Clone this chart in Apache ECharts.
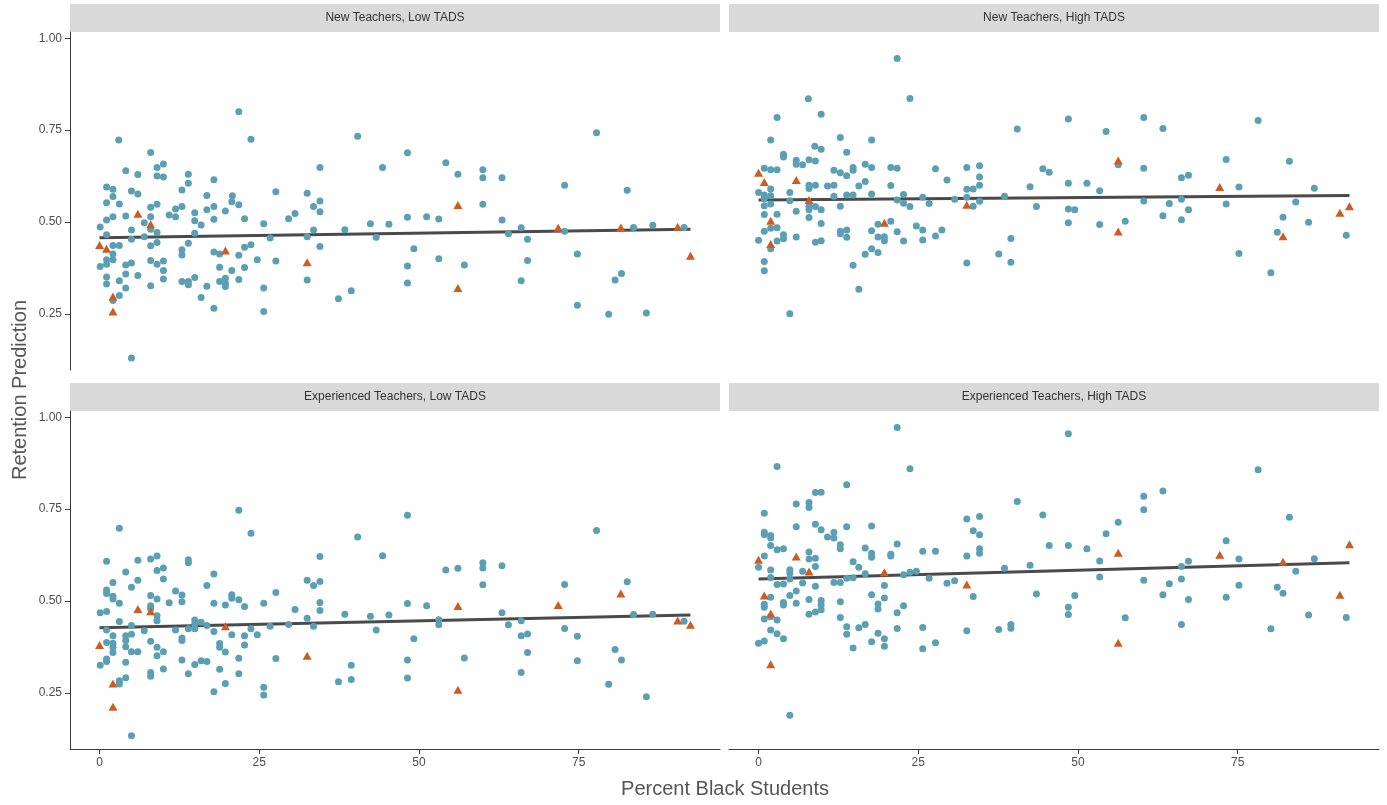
<!DOCTYPE html>
<html><head><meta charset="utf-8">
<script src="https://cdn.jsdelivr.net/npm/echarts@6/dist/echarts.min.js"></script>
<style>html,body{margin:0;padding:0;background:#fff}#c{width:1387px;height:805px}</style>
</head><body><div id="c"></div>
<script>
const panelTitles = ["New Teachers, Low TADS","New Teachers, High TADS","Experienced Teachers, Low TADS","Experienced Teachers, High TADS"];
const xTicks = [0,25,50,75];
const yTicks = [0.25,0.5,0.75,1.0];
const xTitle = "Percent Black Students";
const yTitle = "Retention Prediction";

const newLowCircles = [[21.8,0.80],[3.0,0.723],[23.7,0.725],[8.0,0.689],[4.1,0.639],[6.0,0.629],[9.0,0.648],[10.0,0.658],[9.0,0.625],[10.0,0.622],[13.9,0.63],[13.9,0.605],[17.9,0.615],[1.1,0.595],[2.1,0.589],[5.0,0.584],[6.0,0.576],[2.1,0.569],[12.9,0.587],[1.1,0.552],[3.1,0.549],[8.0,0.54],[9.0,0.548],[12.9,0.542],[11.9,0.535],[16.8,0.572],[16.8,0.533],[17.9,0.542],[20.8,0.571],[20.7,0.555],[21.8,0.547],[19.7,0.53],[14.9,0.525],[27.6,0.582],[1.1,0.505],[2.1,0.514],[4.1,0.516],[8.0,0.514],[10.9,0.519],[11.9,0.514],[14.9,0.503],[15.9,0.492],[17.9,0.507],[22.7,0.509],[25.7,0.495],[29.6,0.509],[0.1,0.486],[5.0,0.478],[7.0,0.498],[8.0,0.48],[9.0,0.471],[1.1,0.465],[5.0,0.453],[7.0,0.46],[14.9,0.469],[26.7,0.456],[2.1,0.436],[3.1,0.436],[8.0,0.435],[9.0,0.444],[13.9,0.442],[12.9,0.424],[12.9,0.41],[17.9,0.418],[18.8,0.413],[23.7,0.438],[22.7,0.431],[21.8,0.409],[2.1,0.413],[1.1,0.397],[2.1,0.397],[0.1,0.379],[1.1,0.385],[4.1,0.383],[5.0,0.388],[8.0,0.395],[9.0,0.385],[10.0,0.394],[10.0,0.368],[4.1,0.358],[6.0,0.354],[18.8,0.377],[20.7,0.368],[22.7,0.376],[24.7,0.397],[27.6,0.394],[1.1,0.35],[1.1,0.331],[3.1,0.34],[4.1,0.32],[8.0,0.326],[10.0,0.345],[12.9,0.338],[13.9,0.338],[13.9,0.329],[14.9,0.349],[16.8,0.325],[18.8,0.338],[19.7,0.347],[19.7,0.333],[19.7,0.324],[21.8,0.343],[25.7,0.32],[3.1,0.30],[2.1,0.286],[15.9,0.294],[17.9,0.265],[25.7,0.256],[5.0,0.13],
[30.6,0.523],[32.5,0.578],[33.5,0.542],[34.5,0.557],[34.5,0.528],[34.5,0.648],[33.5,0.478],[32.5,0.46],[34.5,0.433],[32.5,0.342],[38.4,0.479],[37.4,0.291],[39.4,0.313],[40.4,0.733],[42.4,0.495],[43.3,0.458],[44.3,0.648],[45.3,0.494],[48.2,0.688],[48.2,0.513],[48.2,0.38],[48.2,0.334],[49.2,0.427],[51.2,0.514],[53.1,0.508],[53.1,0.40],[54.2,0.661],[56.1,0.63],[57.1,0.383],[60.0,0.642],[60.0,0.62],[60.0,0.548],[63.0,0.62],[63.0,0.505],
[64.0,0.468],[66.0,0.484],[67.0,0.453],[67.0,0.395],[66.0,0.34],[72.8,0.60],[72.8,0.475],[74.8,0.413],[74.8,0.273],[77.8,0.743],[82.6,0.586],[83.6,0.485],[81.7,0.36],[80.7,0.342],[79.7,0.249],[86.6,0.491],[85.6,0.252],[91.5,0.485]];
const newLowTriangles = [[6.0,0.522],[8.0,0.494],[0,0.437],[1.1,0.427],[19.7,0.422],[2.1,0.297],[2.1,0.256],[32.5,0.39],[56.1,0.546],[56.1,0.32],[71.8,0.484],[81.6,0.485],[90.5,0.487],[92.5,0.408]];

const newHighCircles = [[21.7,0.945],[7.8,0.835],[23.7,0.836],[2.9,0.784],[9.8,0.793],[1.9,0.723],[12.8,0.73],[17.7,0.723],[3.9,0.684],[3.9,0.677],[8.8,0.706],[9.8,0.698],[13.8,0.69],[5.9,0.668],[5.9,0.657],[6.9,0.656],[7.9,0.669],[8.9,0.666],[0.9,0.646],[1.9,0.642],[2.9,0.642],[1.9,0.59],[0,0.58],[0.9,0.573],[1.9,0.571],[0.9,0.564],[0.9,0.544],[1.9,0.549],[0.9,0.52],[2.9,0.521],[0.9,0.475],[1.9,0.483],[2.9,0.484],[0,0.45],[2.9,0.448],[3.9,0.454],[3.9,0.465],[1.9,0.427],[0.9,0.392],[0.9,0.367],[4.9,0.25],[4.9,0.58],[4.9,0.558],[5.9,0.529],[5.9,0.459],[7.9,0.6],[7.9,0.591],[8.9,0.6],[7.9,0.542],[7.9,0.533],[8.9,0.542],[9.8,0.533],[7.9,0.512],[9.8,0.496],[8.9,0.445],[9.8,0.449],[10.8,0.598],[11.8,0.6],[11.8,0.641],[12.8,0.634],[13.8,0.626],[14.8,0.641],[14.8,0.648],[16.7,0.657],[17.7,0.648],[15.7,0.598],[16.7,0.61],[11.8,0.57],[12.8,0.543],[13.8,0.573],[14.8,0.573],[17.7,0.576],[12.8,0.475],[12.8,0.468],[13.8,0.478],[13.8,0.458],[14.8,0.382],[15.7,0.317],[16.7,0.412],[17.7,0.427],[18.7,0.417],[17.7,0.476],[18.7,0.459],[19.7,0.46],[19.7,0.449],[18.7,0.494],[20.7,0.502],[20.7,0.648],[21.7,0.646],[20.7,0.599],[21.7,0.56],[22.7,0.575],[22.7,0.551],[23.7,0.542],[21.7,0.473],[22.7,0.448],[24.7,0.489],[25.7,0.567],[25.7,0.478],[25.7,0.451],[26.7,0.55],[27.7,0.645],[27.7,0.462],[29.5,0.614],
[30.7,0.562],[32.6,0.648],[32.6,0.589],[33.6,0.59],[32.6,0.567],[33.6,0.543],[34.6,0.653],[34.6,0.622],[34.6,0.6],[34.6,0.556],[28.7,0.478],[38.5,0.57],[37.6,0.413],[39.5,0.455],[39.5,0.39],[32.6,0.388],[40.5,0.753],[42.5,0.596],[43.5,0.542],[44.5,0.645],[45.5,0.635],[48.5,0.78],[48.5,0.605],[48.5,0.535],[49.5,0.533],[48.5,0.498],[51.4,0.605],[53.4,0.585],[53.4,0.493],[54.4,0.746],[56.3,0.656],[57.4,0.502],[60.3,0.784],[60.3,0.646],[60.3,0.557],[63.3,0.754],[63.3,0.517],
[64.3,0.55],[66.2,0.62],[67.3,0.627],[66.2,0.562],[67.3,0.533],[66.2,0.506],[73.2,0.67],[73.2,0.549],[75.2,0.595],[75.2,0.414],[78.2,0.776],[80.2,0.362],[81.2,0.472],[82.1,0.513],[83.1,0.665],[84.1,0.554],[86.1,0.499],[87.0,0.592],[92.0,0.464]];
const newHighTriangles = [[0,0.634],[0.9,0.609],[1.9,0.503],[1.9,0.44],[5.9,0.614],[7.9,0.56],[19.7,0.498],[32.6,0.547],[56.3,0.667],[56.3,0.474],[72.2,0.595],[82.1,0.461],[91.0,0.525],[92.5,0.543]];

const expLowCircles = [[21.8,0.747],[3.1,0.698],[23.7,0.684],[1.1,0.608],[6.0,0.611],[8.0,0.614],[9.0,0.622],[13.9,0.612],[13.9,0.604],[4.1,0.579],[9.0,0.583],[10.0,0.59],[10.0,0.56],[17.9,0.573],[2.1,0.55],[6.0,0.556],[5.0,0.537],[1.1,0.53],[1.1,0.52],[2.1,0.513],[2.1,0.505],[3.1,0.494],[8.0,0.515],[9.0,0.505],[11.9,0.527],[12.9,0.516],[12.9,0.498],[10.9,0.495],[16.8,0.542],[17.9,0.494],[19.7,0.489],[20.7,0.517],[20.7,0.507],[21.8,0.503],[22.7,0.485],[25.7,0.494],[27.6,0.523],[0.1,0.468],[1.1,0.471],[8.0,0.487],[8.0,0.479],[9.0,0.46],[9.0,0.446],[3.1,0.444],[1.1,0.421],[2.1,0.405],[1.1,0.387],[2.1,0.385],[2.1,0.374],[2.1,0.36],[4.1,0.405],[4.1,0.392],[4.1,0.375],[5.0,0.433],[5.0,0.409],[5.0,0.362],[6.0,0.362],[7.0,0.419],[8.0,0.39],[9.0,0.374],[9.0,0.351],[10.0,0.362],[11.9,0.421],[12.9,0.399],[12.9,0.392],[13.9,0.424],[14.9,0.448],[14.9,0.437],[14.9,0.424],[15.9,0.442],[16.8,0.433],[17.9,0.417],[18.8,0.384],[18.8,0.374],[19.7,0.361],[20.7,0.408],[22.7,0.405],[22.7,0.38],[23.7,0.424],[24.7,0.408],[26.7,0.431],[29.6,0.436],[0.1,0.325],[1.1,0.342],[1.1,0.335],[4.1,0.333],[8.0,0.305],[8.0,0.295],[10.0,0.315],[12.9,0.339],[13.9,0.302],[14.9,0.327],[15.9,0.337],[16.8,0.335],[18.8,0.314],[21.8,0.344],[21.8,0.302],[27.6,0.343],[3.1,0.283],[3.1,0.274],[4.1,0.291],[17.9,0.253],[19.7,0.275],[25.7,0.265],[25.7,0.244],[5.0,0.133],
[30.6,0.477],[32.5,0.556],[33.5,0.542],[34.5,0.553],[34.5,0.621],[34.5,0.496],[34.5,0.474],[32.5,0.453],[33.5,0.431],[38.4,0.464],[39.4,0.325],[39.4,0.286],[37.4,0.28],[40.4,0.674],[42.4,0.458],[43.3,0.421],[44.3,0.623],[45.3,0.462],[48.2,0.733],[48.2,0.493],[48.2,0.339],[48.2,0.29],[49.2,0.397],[51.2,0.487],[53.1,0.449],[53.1,0.435],[54.2,0.584],[56.1,0.589],[57.1,0.345],[60.0,0.604],[60.0,0.59],[60.0,0.544],[63.0,0.596],[63.0,0.468],
[64.0,0.435],[66.0,0.446],[66.0,0.405],[67.0,0.41],[67.0,0.36],[66.0,0.305],[72.8,0.545],[72.8,0.425],[74.8,0.404],[74.8,0.337],[77.8,0.692],[82.6,0.552],[83.6,0.463],[86.6,0.464],[80.7,0.368],[81.7,0.339],[79.7,0.273],[85.6,0.239],[91.5,0.445]];
const expLowTriangles = [[0,0.38],[2.1,0.275],[2.1,0.212],[6.0,0.478],[8.0,0.472],[19.7,0.431],[32.5,0.351],[56.1,0.486],[56.1,0.258],[71.8,0.489],[81.6,0.52],[90.5,0.447],[92.5,0.435]];

const expHighCircles = [[21.7,0.972],[2.9,0.866],[23.7,0.86],[13.8,0.816],[8.9,0.795],[9.8,0.796],[5.9,0.764],[7.9,0.768],[7.9,0.754],[0.9,0.739],[5.9,0.702],[8.9,0.709],[9.8,0.694],[13.8,0.702],[17.7,0.704],[0.9,0.687],[0.9,0.681],[1.9,0.678],[1.9,0.671],[10.8,0.674],[11.8,0.687],[11.8,0.671],[12.8,0.653],[12.8,0.642],[1.9,0.651],[2.9,0.639],[3.9,0.642],[16.7,0.644],[17.7,0.63],[17.7,0.619],[20.7,0.627],[20.7,0.622],[21.7,0.655],[25.7,0.635],[27.7,0.635],[0.9,0.622],[0,0.592],[7.9,0.633],[7.9,0.614],[8.9,0.616],[8.9,0.594],[1.9,0.584],[4.9,0.585],[4.9,0.576],[6.9,0.581],[14.8,0.607],[15.7,0.592],[16.7,0.574],[22.7,0.571],[23.7,0.578],[24.7,0.581],[26.7,0.562],[29.5,0.548],[1.9,0.564],[2.9,0.545],[3.9,0.546],[4.9,0.56],[6.9,0.549],[8.9,0.54],[11.8,0.55],[12.8,0.55],[13.8,0.562],[14.8,0.563],[19.7,0.542],[1.9,0.51],[0.9,0.491],[0.9,0.483],[3.9,0.496],[3.9,0.489],[4.9,0.515],[5.9,0.527],[5.9,0.494],[7.9,0.504],[9.8,0.501],[9.8,0.489],[9.8,0.476],[7.9,0.464],[8.9,0.47],[12.8,0.498],[12.8,0.455],[17.7,0.517],[18.7,0.492],[18.7,0.478],[19.7,0.508],[22.7,0.487],[21.7,0.468],[0.9,0.451],[1.9,0.457],[2.9,0.448],[1.9,0.421],[2.9,0.411],[3.9,0.397],[0,0.385],[0.9,0.391],[13.8,0.43],[13.8,0.409],[15.7,0.427],[16.7,0.436],[14.8,0.372],[17.7,0.389],[18.7,0.412],[19.7,0.397],[19.7,0.377],[21.7,0.425],[25.7,0.428],[25.7,0.37],[27.7,0.386],[4.9,0.189],
[30.7,0.555],[32.6,0.723],[34.6,0.73],[33.6,0.691],[34.6,0.68],[34.6,0.642],[34.6,0.63],[32.6,0.622],[33.6,0.512],[32.6,0.419],[38.5,0.589],[37.6,0.422],[39.5,0.436],[39.5,0.426],[40.5,0.771],[42.5,0.597],[43.5,0.519],[44.5,0.734],[45.5,0.651],[48.5,0.955],[48.5,0.651],[48.5,0.483],[48.5,0.463],[49.5,0.515],[51.4,0.642],[53.4,0.609],[53.4,0.565],[54.4,0.683],[56.3,0.714],[57.4,0.454],[60.3,0.785],[60.3,0.748],[60.3,0.556],[63.3,0.799],[63.3,0.517],
[64.3,0.547],[66.2,0.594],[67.3,0.608],[66.2,0.56],[67.3,0.504],[66.2,0.436],[73.2,0.664],[73.2,0.51],[75.2,0.614],[75.2,0.543],[78.2,0.857],[80.2,0.424],[81.2,0.537],[82.1,0.521],[83.1,0.728],[84.1,0.581],[86.1,0.462],[87.0,0.615],[92.0,0.455]];
const expHighTriangles = [[0,0.612],[0.9,0.515],[1.9,0.466],[1.9,0.328],[5.9,0.621],[7.9,0.58],[19.7,0.578],[32.6,0.545],[56.3,0.631],[56.3,0.386],[72.2,0.626],[82.1,0.607],[91.0,0.517],[92.5,0.654]];

// fitted regression lines: [x0, y0, x1, y1]
const fitLines = [[0,0.457,92.5,0.480],[0,0.560,92.5,0.572],[0,0.427,92.5,0.462],[0,0.560,92.5,0.604]];

const circleSets = [newLowCircles,newHighCircles,expLowCircles,expHighCircles];
const triangleSets = [newLowTriangles,newHighTriangles,expLowTriangles,expHighTriangles];

const FONT = '"Liberation Sans", Arial, sans-serif';
const BLUE = '#5b9fb5', ORANGE = '#cf5a22', LINE = '#4a4a4a', AXIS = '#3a3a3a', TXT = '#4d4d4d';
const gridPos = [
  {left:70, top:32, width:650, height:338},
  {left:729, top:32, width:650, height:338},
  {left:70, top:411, width:650, height:338},
  {left:729, top:411, width:650, height:338}
];
const stripH = 28;

const chart = echarts.init(document.getElementById('c'), null, {renderer:'canvas'});
const grids = gridPos.map(g => Object.assign({containLabel:false}, g));
const xAxes = gridPos.map((g,i) => {
  const bottom = i >= 2;
  return {type:'value', gridIndex:i, min:-4.625, max:97.125,
    splitLine:{show:false},
    axisLine:{show:bottom, onZero:false, lineStyle:{color:AXIS, width:1}},
    axisTick:{show:bottom, customValues:xTicks, length:5, lineStyle:{color:AXIS}},
    axisLabel:{show:bottom, customValues:xTicks, color:TXT, fontSize:12, fontFamily:FONT, margin:8}};
});
const yAxes = gridPos.map((g,i) => {
  const left = (i % 2) === 0;
  return {type:'value', gridIndex:i, min:0.097, max:1.017,
    splitLine:{show:false},
    axisLine:{show:left, onZero:false, lineStyle:{color:AXIS, width:1}},
    axisTick:{show:left, customValues:yTicks, length:5, lineStyle:{color:AXIS}},
    axisLabel:{show:left, customValues:yTicks, color:TXT, fontSize:12, fontFamily:FONT, margin:8,
      formatter: v => Number(v).toFixed(2)}};
});
const series = [];
for (let i = 0; i < 4; i++) {
  const f = fitLines[i];
  series.push({type:'line', xAxisIndex:i, yAxisIndex:i, data:[[f[0],f[1]],[f[2],f[3]]],
    showSymbol:false, symbol:'none', lineStyle:{color:LINE, width:3}, z:2, silent:true, animation:false});
  series.push({type:'scatter', xAxisIndex:i, yAxisIndex:i, data:circleSets[i], symbol:'circle', symbolSize:7,
    itemStyle:{color:BLUE, opacity:1}, z:3, animation:false, silent:true});
  series.push({type:'scatter', xAxisIndex:i, yAxisIndex:i, data:triangleSets[i], symbol:'triangle', symbolSize:[9,8],
    itemStyle:{color:ORANGE, opacity:1}, z:4, animation:false, silent:true});
}
const graphics = [];
gridPos.forEach((g,i) => {
  graphics.push({type:'rect', shape:{x:g.left, y:g.top - stripH, width:g.width, height:stripH}, style:{fill:'#d9d9d9'}, silent:true});
  graphics.push({type:'text', x:g.left + g.width/2, y:g.top - stripH/2, style:{text:panelTitles[i], fill:'#333333', font:'12px ' + FONT, align:'center', verticalAlign:'middle'}, silent:true});
});
graphics.push({type:'text', x:725, y:789, style:{text:xTitle, fill:'#555555', font:'20px ' + FONT, align:'center', verticalAlign:'middle'}, silent:true});
graphics.push({type:'text', x:20, y:390, rotation:Math.PI/2, style:{text:yTitle, fill:'#555555', font:'20px ' + FONT, align:'center', verticalAlign:'middle'}, silent:true});

chart.setOption({
  animation:false,
  backgroundColor:'#ffffff',
  grid:grids, xAxis:xAxes, yAxis:yAxes, series:series, graphic:graphics
});
</script>
</body></html>
